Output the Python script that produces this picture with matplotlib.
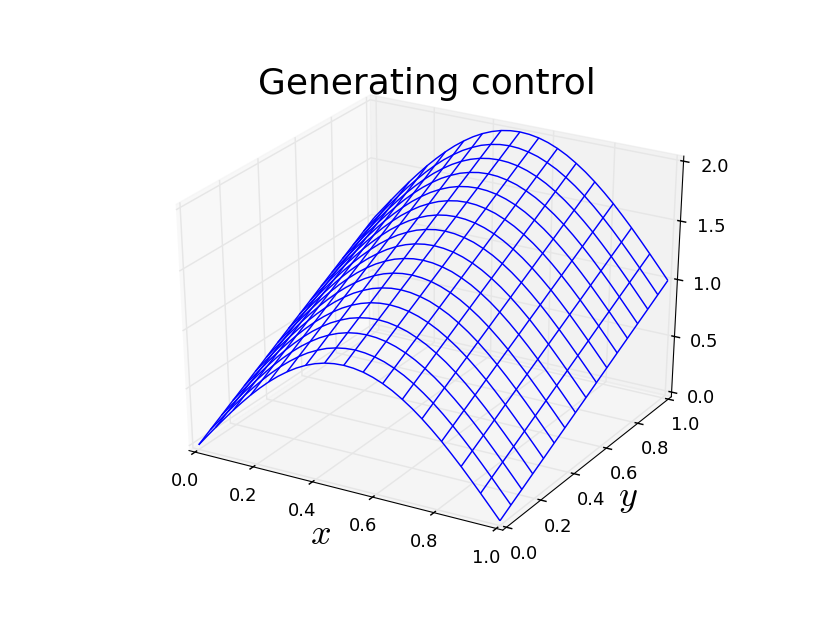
import numpy as np
import matplotlib
matplotlib.use("Agg")
import matplotlib.pyplot as plt
from mpl_toolkits.mplot3d import Axes3D

plt.style.use('classic')
plt.rcParams['figure.facecolor'] = 'white'
plt.rcParams['savefig.facecolor'] = 'white'
plt.rcParams['mathtext.fontset'] = 'cm'

# grid
x_vals = [0, .03125, .0625, .09375, .125, .15625, .1875, .21875, .25, .28125, .3125, .34375, .375, .40625, .4375, .46875, .5,
          .53125, .5625, .59375, .625, .65625, .6875, .71875, .75, .78125, .8125, .84375, .875, .90625, .9375, .96875, 1]
y_vals = [0, .0625, .125, .1875, .25, .3125, .375, .4375, .5, .5625, .625, .6875, .75, .8125, .875, .9375, 1]

# surface height from x=0 to x=0.5, one row per y value (the other half mirrors it)
z_left = [
    [0, .098, .195, .290, .383, .471, .556, .634, .707, .773, .831, .882, .924, .957, .981, .995, 1],
    [.063, .160, .258, .353, .446, .534, .618, .697, .770, .835, .894, .945, .986, 1.020, 1.043, 1.057, 1.063],
    [.125, .223, .320, .415, .508, .596, .681, .759, .832, .898, .956, 1.007, 1.049, 1.082, 1.106, 1.120, 1.125],
    [.188, .286, .383, .478, .570, .659, .743, .822, .895, .961, 1.019, 1.070, 1.111, 1.145, 1.168, 1.183, 1.188],
    [.25, .348, .445, .540, .633, .721, .806, .884, .957, 1.023, 1.081, 1.132, 1.174, 1.207, 1.231, 1.245, 1.25],
    [.313, .411, .508, .603, .695, .784, .868, .947, 1.020, 1.086, 1.144, 1.195, 1.236, 1.270, 1.293, 1.308, 1.313],
    [.375, .473, .570, .665, .758, .846, .931, 1.009, 1.082, 1.148, 1.206, 1.257, 1.299, 1.332, 1.356, 1.370, 1.375],
    [.438, .536, .633, .728, .820, .909, .993, 1.072, 1.145, 1.211, 1.269, 1.320, 1.361, 1.395, 1.418, 1.433, 1.438],
    [.5, .598, .695, .790, .883, .971, 1.056, 1.134, 1.207, 1.273, 1.331, 1.382, 1.424, 1.457, 1.481, 1.495, 1.5],
    [.563, .661, .758, .853, .945, 1.034, 1.118, 1.197, 1.270, 1.336, 1.394, 1.445, 1.486, 1.520, 1.543, 1.558, 1.563],
    [.625, .723, .820, .915, 1.008, 1.096, 1.181, 1.259, 1.332, 1.398, 1.456, 1.507, 1.549, 1.582, 1.606, 1.620, 1.625],
    [.688, .786, .883, .978, 1.070, 1.159, 1.243, 1.322, 1.395, 1.461, 1.519, 1.570, 1.611, 1.645, 1.668, 1.683, 1.688],
    [.75, .848, .945, 1.040, 1.133, 1.221, 1.306, 1.384, 1.457, 1.523, 1.581, 1.632, 1.674, 1.707, 1.731, 1.745, 1.75],
    [.813, .911, 1.008, 1.103, 1.195, 1.284, 1.368, 1.447, 1.520, 1.586, 1.644, 1.695, 1.736, 1.770, 1.793, 1.808, 1.813],
    [.875, .973, 1.070, 1.165, 1.258, 1.346, 1.431, 1.509, 1.582, 1.648, 1.706, 1.757, 1.799, 1.832, 1.856, 1.870, 1.875],
    [.938, 1.036, 1.133, 1.228, 1.320, 1.409, 1.493, 1.572, 1.645, 1.711, 1.769, 1.820, 1.861, 1.895, 1.918, 1.933, 1.938],
    [1, 1.098, 1.195, 1.290, 1.383, 1.471, 1.556, 1.634, 1.707, 1.773, 1.831, 1.882, 1.924, 1.957, 1.981, 1.995, 2],
]

x_ticks = [0.0, 0.2, 0.4, 0.6, 0.8, 1.0]
y_ticks = [0.0, 0.2, 0.4, 0.6, 0.8, 1.0]
z_ticks = [0.0, 0.5, 1.0, 1.5, 2.0]

X, Y = np.meshgrid(x_vals, y_vals)
Z_left = np.array(z_left)
Z = np.hstack([Z_left, Z_left[:, -2::-1]])

fig = plt.figure(figsize=(8, 6.005), dpi=103.75)
ax = fig.add_subplot(111, projection='3d')
# old mplot3d look: unit cube stretched over the whole subplot rectangle
ax.set_box_aspect((1, 1, 1), zoom=0.94675)
ax.apply_aspect = lambda position=None: ax._set_position(ax.get_position(original=True), 'active')
ax.plot_wireframe(X, Y, Z, rstride=1, cstride=2, color='b', linewidth=1.0)

ax.set_xlim(-1 / 48, 1 + 1 / 48)
ax.set_ylim(-1 / 48, 1 + 1 / 48)
ax.set_zlim(-2 / 48, 2 + 2 / 48)
ax.set_xticks(x_ticks)
ax.set_yticks(y_ticks)
ax.set_zticks(z_ticks)
ax.tick_params(axis='x', labelsize=12.5, pad=3)
ax.tick_params(axis='y', labelsize=12.5, pad=3.5)
ax.tick_params(axis='z', labelsize=12.5, pad=5)
ax.set_xlabel('$x$', fontsize=25, labelpad=3.5)
ax.set_ylabel('$y$', fontsize=25, labelpad=4)
ax.set_title('Generating control', fontsize=25, x=0.503, y=1.003)

fig.savefig('out.png', dpi=103.75)
